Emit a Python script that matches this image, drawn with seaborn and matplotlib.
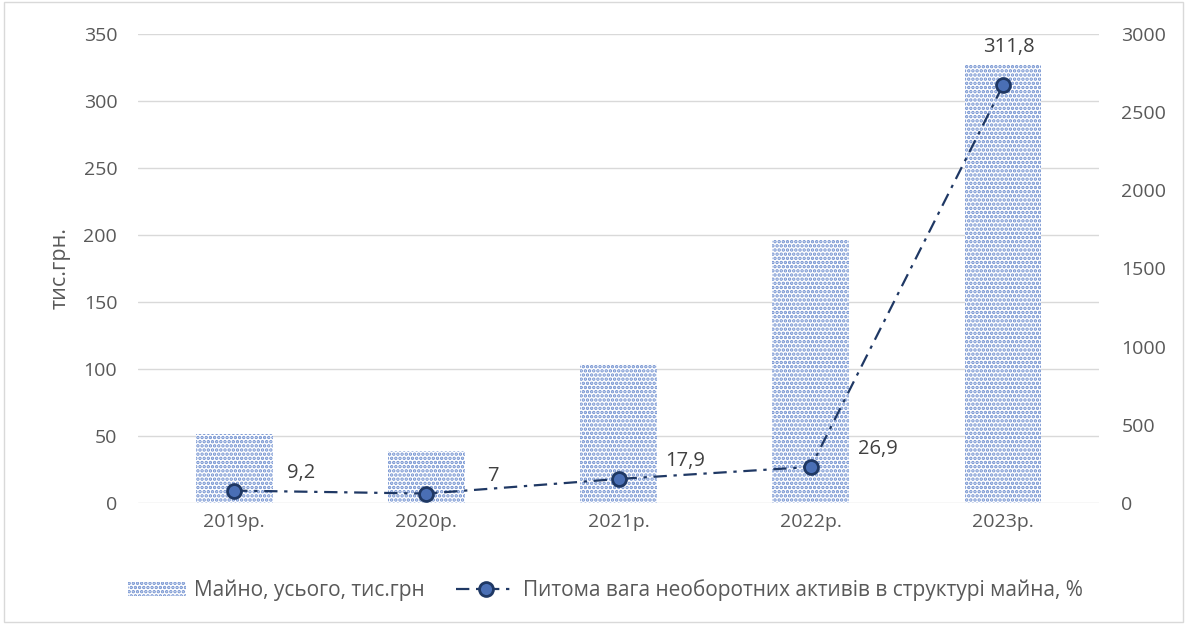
import matplotlib
matplotlib.use("Agg")
import matplotlib.pyplot as plt
import seaborn as sns
import pandas as pd
from matplotlib.lines import Line2D
from matplotlib.patches import Patch, Rectangle

years = ["2019р.", "2020р.", "2021р.", "2022р.", "2023р."]
assets = [51.5, 39, 104, 196, 326.5]          # Майно, усього, тис.грн
share = [9.2, 7, 17.9, 26.9, 311.8]            # Питома вага необоротних активів
share_labels = ["9,2", "7", "17,9", "26,9", "311,8"]

bar_name = "Майно, усього, тис.грн"
line_name = "Питома вага необоротних активів в структурі майна, %"

sns.set_theme(style="white")
plt.rcParams["font.family"] = ["Open Sans", "DejaVu Sans"]
plt.rcParams["hatch.linewidth"] = 1.7
plt.rcParams["hatch.color"] = "#6F8FCF"

GREY = "#595959"
NAVY = "#1F3864"
DOT = "#6F8FCF"
DASH = (0, (6, 3, 1.5, 3))

df = pd.DataFrame({"year": years, "assets": assets, "share": share})

fig = plt.figure(figsize=(11.87, 6.24), dpi=100)
ax = fig.add_axes([0.1163, 0.194, 0.8097, 0.7515])

sns.barplot(df, x="year", y="assets", ax=ax, width=0.4, color="white")
for p in ax.patches:
    p.set_facecolor("white")
    p.set_edgecolor(DOT)
    p.set_linewidth(0)
    p.set_hatch("....")

sns.lineplot(df, x="year", y="share", ax=ax, sort=False, color=NAVY,
             linestyle=DASH, linewidth=1.6, marker="o",
             markersize=10, markerfacecolor="#4A6FB5", markeredgecolor=NAVY,
             markeredgewidth=2)

# підписи значень лінії
for i, (v, lab) in enumerate(zip(share, share_labels)):
    if i == len(share) - 1:
        ax.annotate(lab, (i, v), xytext=(4, 20), textcoords="offset points",
                    ha="center", va="bottom", fontsize=14.5, color="#404040")
    else:
        ax.annotate(lab, (i, v), xytext=(48, 13), textcoords="offset points",
                    ha="center", va="center", fontsize=14.5, color="#404040")

ax.set_ylim(0, 350)
ax.set_yticks(range(0, 351, 50))
ax.set_xlim(-0.5, 4.5)
ax.yaxis.grid(True, color="#D9D9D9", linewidth=1)
ax.set_axisbelow(True)
for s in ax.spines.values():
    s.set_visible(False)
ax.tick_params(axis="both", length=0, labelsize=14, labelcolor=GREY)
ax.tick_params(axis="y", pad=15)
ax.tick_params(axis="x", pad=7)
ax.set_xlabel("")
ax.set_ylabel("тис.грн.", fontsize=15.5, color=GREY, labelpad=9)

ax2 = ax.twinx()
ax2.set_ylim(0, 3000)
ax2.set_yticks(range(0, 3001, 500))
for s in ax2.spines.values():
    s.set_visible(False)
ax2.tick_params(axis="y", length=0, labelsize=14, labelcolor=GREY, pad=16)

handles = [
    Patch(facecolor="white", edgecolor=DOT, hatch="....", linewidth=0),
    Line2D([0], [0], color=NAVY, linestyle=DASH, linewidth=1.6,
           marker="o", markersize=10, markerfacecolor="#4A6FB5",
           markeredgecolor=NAVY, markeredgewidth=2),
]
fig.legend(handles, [bar_name, line_name], loc="center", ncol=2,
           bbox_to_anchor=(0.51, 0.054), frameon=False, fontsize=15,
           labelcolor=GREY, handlelength=2.8, handletextpad=0.4,
           columnspacing=1.5)

fig.patches.append(Rectangle((0.003, 0.004), 0.994, 0.992, transform=fig.transFigure,
                             fill=False, edgecolor="#D9D9D9", linewidth=1))

fig.savefig("out.png", dpi=100)
